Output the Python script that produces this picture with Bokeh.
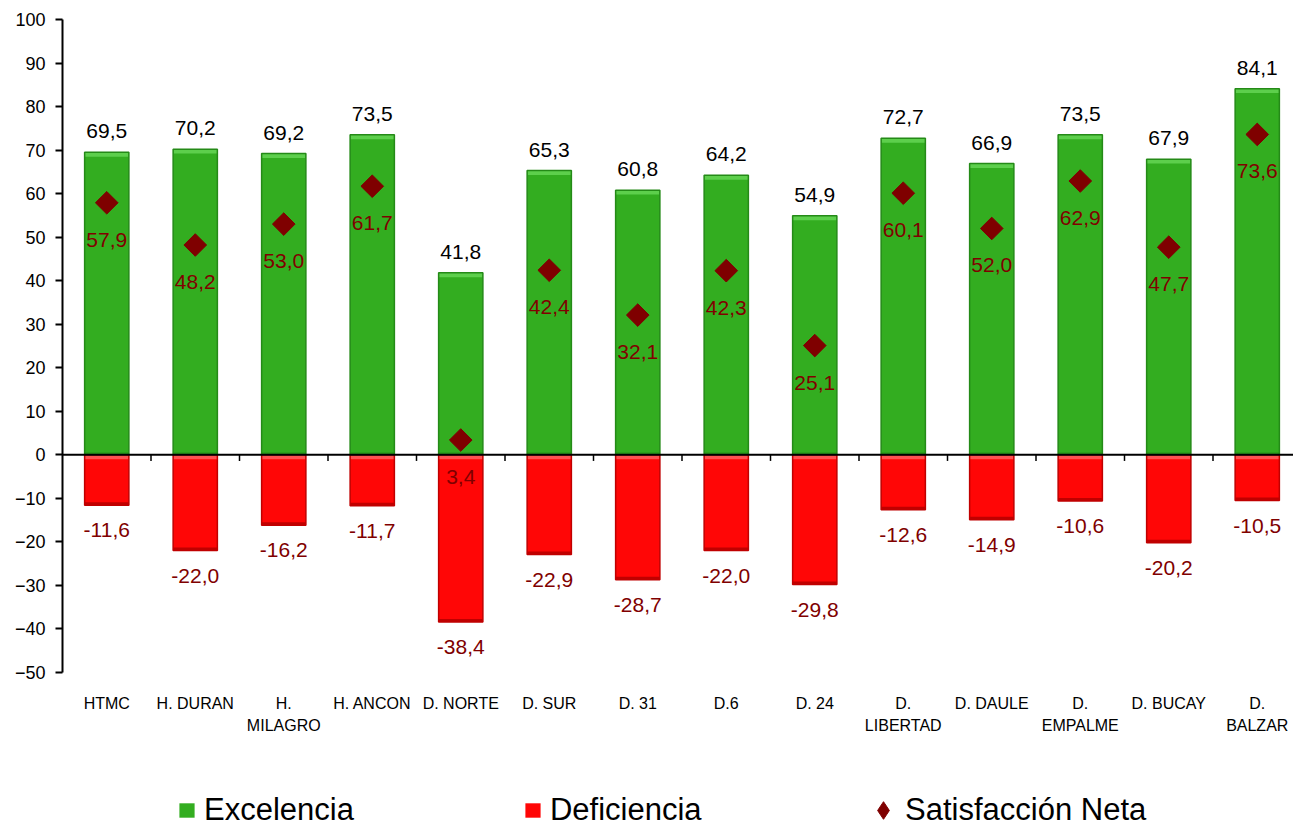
import numpy as np
from bokeh.plotting import figure
from bokeh.models import (Range1d, SingleIntervalTicker, Span,
                          Legend, LegendItem, ColumnDataSource)
from bokeh.core.properties import value
from bokeh.embed import file_html
from bokeh.resources import INLINE

# ---------------- data ----------------
categories = ["HTMC", "H. DURAN", "H.\nMILAGRO", "H. ANCON", "D. NORTE", "D. SUR",
              "D. 31", "D.6", "D. 24", "D.\nLIBERTAD", "D. DAULE", "D.\nEMPALME",
              "D. BUCAY", "D.\nBALZAR"]
excelencia = [69.5, 70.2, 69.2, 73.5, 41.8, 65.3, 60.8, 64.2, 54.9, 72.7, 66.9, 73.5, 67.9, 84.1]
deficiencia = [-11.6, -22.0, -16.2, -11.7, -38.4, -22.9, -28.7, -22.0, -29.8, -12.6, -14.9, -10.6, -20.2, -10.5]
satisfaccion_neta = [57.9, 48.2, 53.0, 61.7, 3.4, 42.4, 32.1, 42.3, 25.1, 60.1, 52.0, 62.9, 47.7, 73.6]
y_min, y_max, y_step = -50, 100, 10

# ---------------- styling ----------------
FONT = "Liberation Sans"
GREEN = "#33AD20"
GREEN_LIGHT = "#5DCF4C"
GREEN_DARK = "#248A17"
RED = "#FF0606"
RED_LIGHT = "#FF5252"
RED_DARK = "#C00000"
DIAMOND = "#7F0000"
DARK_RED_TXT = "#800000"

W, H = 1293, 828
LEFT, TOP = 62, 19
PX_PER_UNIT = 653 / (y_max - y_min)          # plot scale (pixels per value unit)
CAT_PX = 88.5                                 # pixels per category


def fmt(v):
    return f"{v:.1f}".replace(".", ",")


n = len(categories)
xs = np.arange(n) + 0.5
exc = np.array(excelencia)
dfc = np.array(deficiencia)
net = np.array(satisfaccion_neta)

# the frame extends below the value axis to host category labels and the legend
y_bottom = y_max - (H - TOP) / PX_PER_UNIT
x_right = (W - LEFT) / CAT_PX

src = ColumnDataSource(dict(
    x=xs, exc=exc, dfc=dfc, net=net,
    exc_band=exc - 1.0, exc_low=np.full(n, 0.6),
    dfc_band=np.full(n, -1.0), dfc_low=dfc + 0.7,
    exc_lbl=[fmt(v) for v in excelencia],
    dfc_lbl=[fmt(v) for v in deficiencia],
    net_lbl=[fmt(v) for v in satisfaccion_neta],
    cat=categories, base=np.full(n, y_min),
))

p = figure(width=W, height=H, x_axis_location=None,
           x_range=Range1d(0, x_right), y_range=Range1d(y_bottom, y_max),
           output_backend="svg", toolbar_location=None, title=None,
           min_border_left=LEFT, min_border_right=0, min_border_top=TOP,
           min_border_bottom=0)
p.outline_line_color = None
p.grid.visible = False
p.background_fill_color = "white"
p.border_fill_color = "white"

# y axis
ya = p.yaxis[0]
ya.bounds = (y_min, y_max)
ya.ticker = SingleIntervalTicker(interval=y_step)
ya.minor_tick_line_color = None
ya.major_tick_out = 7
ya.major_tick_in = 0
ya.axis_line_width = 2
ya.major_tick_line_width = 2
ya.major_label_text_font = FONT
ya.major_label_text_font_size = "18px"
ya.major_label_text_color = "black"
ya.major_label_standoff = 10

# bars: Excelencia
r_exc = p.vbar(x="x", top="exc", bottom=0, width=0.5, source=src,
               fill_color=GREEN, line_color=None)
p.vbar(x="x", top="exc", bottom="exc_band", width=0.5, source=src,
       fill_color=GREEN_LIGHT, line_color=None)
p.vbar(x="x", top="exc_low", bottom=0, width=0.5, source=src,
       fill_color=GREEN_DARK, fill_alpha=0.5, line_color=None)
p.vbar(x="x", top="exc", bottom=0, width=0.5, source=src,
       fill_color=None, line_color=GREEN_DARK, line_width=1.5)

# bars: Deficiencia
r_dfc = p.vbar(x="x", top=0, bottom="dfc", width=0.5, source=src,
               fill_color=RED, line_color=None)
p.vbar(x="x", top=0, bottom="dfc_band", width=0.5, source=src,
       fill_color=RED_LIGHT, line_color=None)
p.vbar(x="x", top="dfc_low", bottom="dfc", width=0.5, source=src,
       fill_color=RED_DARK, line_color=None)
p.vbar(x="x", top=0, bottom="dfc", width=0.5, source=src,
       fill_color=None, line_color=RED_DARK, line_width=1.5)

# zero line + category separators
p.add_layout(Span(location=0, dimension="width", line_color="black", line_width=2))
bounds = np.arange(1, n)
p.segment(x0=bounds, x1=bounds, y0=np.zeros(n - 1), y1=np.full(n - 1, -1.4),
          line_color="black", line_width=1.5)

# diamonds: a diamond marker (used for the legend swatch) under rotated squares
r_net_leg = p.scatter(x="x", y="net", source=src, marker="diamond", size=14,
                      fill_color=DIAMOND, line_color=DIAMOND)
p.scatter(x="x", y="net", source=src, marker="square", angle=np.pi / 4,
          size=16, fill_color=DIAMOND, line_color=DIAMOND)

# value labels
p.text(x="x", y="exc", text="exc_lbl", source=src, text_align="center",
       text_baseline="alphabetic", y_offset=-21, text_font=value(FONT),
       text_font_size="21px", text_color="black")
p.text(x="x", y="dfc", text="dfc_lbl", source=src, text_align="center",
       text_baseline="alphabetic", y_offset=25, text_font=value(FONT),
       text_font_size="21px", text_color=DARK_RED_TXT)
p.text(x="x", y="net", text="net_lbl", source=src, text_align="center",
       text_baseline="alphabetic", y_offset=37, text_font=value(FONT),
       text_font_size="21px", text_color=DARK_RED_TXT)

# category labels under the value axis
p.text(x="x", y="base", text="cat", source=src, text_align="center",
       text_baseline="top", y_offset=22, text_font=value(FONT),
       text_font_size="16px", text_color="black", text_line_height=1.3)

legend_style = dict(orientation="horizontal", label_text_font=FONT,
                    label_text_font_size="31px", label_text_color="black",
                    padding=0, margin=0, border_line_color=None,
                    background_fill_alpha=0)
legend_bars = Legend(items=[LegendItem(label="Excelencia", renderers=[r_exc]),
                            LegendItem(label="Deficiencia", renderers=[r_dfc])],
                     location=(115, 0), glyph_width=19, glyph_height=18,
                     label_standoff=8, spacing=169, **legend_style)
legend_net = Legend(items=[LegendItem(label="Satisfacción Neta", renderers=[r_net_leg])],
                    location=(799, -4), glyph_width=44, glyph_height=44,
                    label_standoff=0, **legend_style)
p.add_layout(legend_bars)
p.add_layout(legend_net)

open("out.html", "w").write(file_html(p, INLINE))
